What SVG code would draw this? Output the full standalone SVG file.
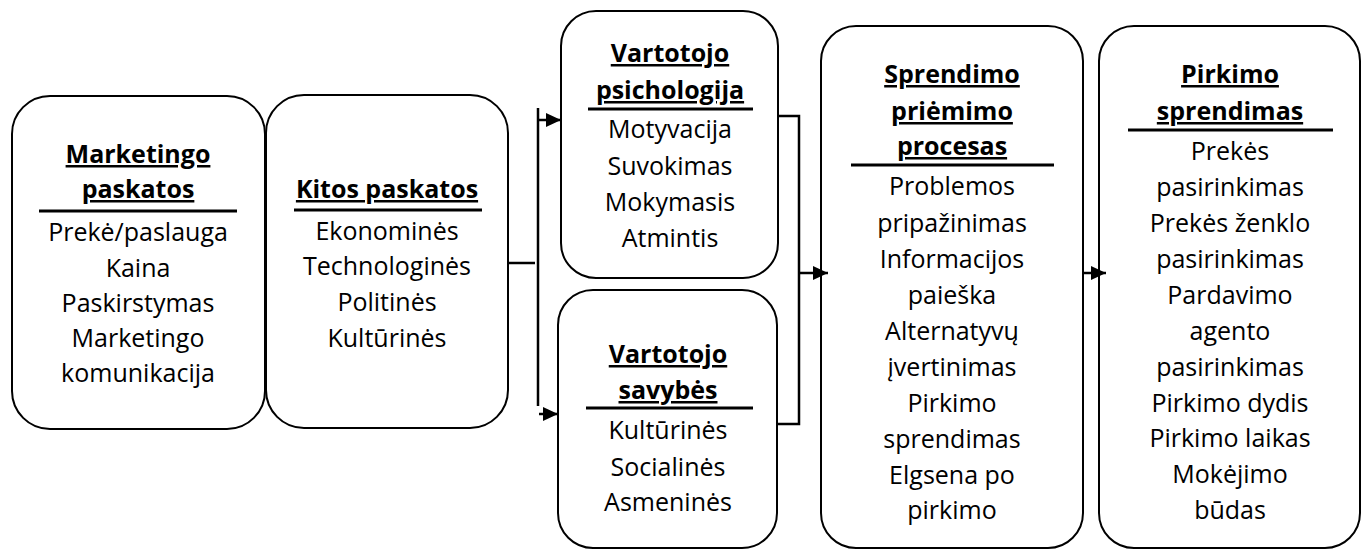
<svg xmlns="http://www.w3.org/2000/svg" width="1369" height="550" viewBox="0 0 1369 550">
  <style>
    .box { fill: #ffffff; stroke: #000000; stroke-width: 2; }
    .rule { stroke: #000000; stroke-width: 3; }
    .conn { fill: none; stroke: #000000; stroke-width: 2.5; }
    text { font-family: "Open Sans", Lato, "Liberation Sans", sans-serif; font-size: 25px; fill: #000000; text-anchor: middle; }
    .head { font-weight: bold; text-decoration: underline; }
  </style>
  <defs>
    <marker id="arrow" markerUnits="userSpaceOnUse" markerWidth="16" markerHeight="16" refX="15" refY="7" orient="auto">
      <path d="M0,0 L15,7 L0,14 z" fill="#000000"/>
    </marker>
  </defs>

  <!-- Marketing stimuli -->
  <g id="marketingo-paskatos">
    <rect class="box" x="12" y="96" width="253" height="333" rx="38" ry="38"/>
    <text class="head" x="138" y="163">Marketingo</text>
    <text class="head" x="138" y="198">paskatos</text>
    <line class="rule" x1="39" y1="211" x2="237" y2="211"/>
    <text x="138" y="241">Prekė/paslauga</text>
    <text x="138" y="277">Kaina</text>
    <text x="138" y="312">Paskirstymas</text>
    <text x="138" y="347">Marketingo</text>
    <text x="138" y="382">komunikacija</text>
  </g>

  <!-- Other stimuli -->
  <g id="kitos-paskatos">
    <rect class="box" x="266" y="95" width="242" height="333" rx="38" ry="38"/>
    <text class="head" x="387" y="198">Kitos paskatos</text>
    <line class="rule" x1="294" y1="210" x2="482" y2="210"/>
    <text x="387" y="240">Ekonominės</text>
    <text x="387" y="275">Technologinės</text>
    <text x="387" y="311">Politinės</text>
    <text x="387" y="347">Kultūrinės</text>
  </g>

  <!-- Consumer psychology -->
  <g id="vartotojo-psichologija">
    <rect class="box" x="561" y="11" width="217" height="267" rx="35" ry="35"/>
    <text class="head" x="670" y="62">Vartotojo</text>
    <text class="head" x="670" y="99">psichologija</text>
    <line class="rule" x1="588" y1="109" x2="753" y2="109"/>
    <text x="670" y="138">Motyvacija</text>
    <text x="670" y="175">Suvokimas</text>
    <text x="670" y="211">Mokymasis</text>
    <text x="670" y="247">Atmintis</text>
  </g>

  <!-- Consumer characteristics -->
  <g id="vartotojo-savybes">
    <rect class="box" x="558" y="290" width="219" height="258" rx="35" ry="35"/>
    <text class="head" x="668" y="363">Vartotojo</text>
    <text class="head" x="668" y="399">savybės</text>
    <line class="rule" x1="586" y1="408" x2="753" y2="408"/>
    <text x="668" y="439">Kultūrinės</text>
    <text x="668" y="476">Socialinės</text>
    <text x="668" y="511">Asmeninės</text>
  </g>

  <!-- Decision-making process -->
  <g id="sprendimo-procesas">
    <rect class="box" x="821" y="26" width="262" height="522" rx="35" ry="35"/>
    <text class="head" x="952" y="83">Sprendimo</text>
    <text class="head" x="952" y="120">priėmimo</text>
    <text class="head" x="952" y="155">procesas</text>
    <line class="rule" x1="851" y1="165" x2="1054" y2="165"/>
    <text x="952" y="195">Problemos</text>
    <text x="952" y="232">pripažinimas</text>
    <text x="952" y="268">Informacijos</text>
    <text x="952" y="304">paieška</text>
    <text x="952" y="340">Alternatyvų</text>
    <text x="952" y="376">įvertinimas</text>
    <text x="952" y="412">Pirkimo</text>
    <text x="952" y="448">sprendimas</text>
    <text x="952" y="484">Elgsena po</text>
    <text x="952" y="519">pirkimo</text>
  </g>

  <!-- Purchase decision -->
  <g id="pirkimo-sprendimas">
    <rect class="box" x="1099" y="26" width="261" height="522" rx="35" ry="35"/>
    <text class="head" x="1230" y="83">Pirkimo</text>
    <text class="head" x="1230" y="120">sprendimas</text>
    <line class="rule" x1="1128" y1="130" x2="1333" y2="130"/>
    <text x="1230" y="160">Prekės</text>
    <text x="1230" y="196">pasirinkimas</text>
    <text x="1230" y="232">Prekės ženklo</text>
    <text x="1230" y="268">pasirinkimas</text>
    <text x="1230" y="304">Pardavimo</text>
    <text x="1230" y="340">agento</text>
    <text x="1230" y="376">pasirinkimas</text>
    <text x="1230" y="412">Pirkimo dydis</text>
    <text x="1230" y="447">Pirkimo laikas</text>
    <text x="1230" y="483">Mokėjimo</text>
    <text x="1230" y="519">būdas</text>
  </g>

  <!-- Connectors -->
  <g id="connectors">
    <line class="conn" x1="508" y1="263" x2="535" y2="263"/>
    <line class="conn" x1="538" y1="108" x2="538" y2="406"/>
    <line class="conn" x1="538" y1="120" x2="561" y2="120" marker-end="url(#arrow)"/>
    <line class="conn" x1="539" y1="414" x2="558" y2="414" marker-end="url(#arrow)"/>
    <polyline class="conn" points="778,116 799,116 799,424 778,424"/>
    <line class="conn" x1="799" y1="273" x2="828" y2="273" marker-end="url(#arrow)"/>
    <line class="conn" x1="1083" y1="273" x2="1106" y2="273" marker-end="url(#arrow)"/>
  </g>
</svg>
